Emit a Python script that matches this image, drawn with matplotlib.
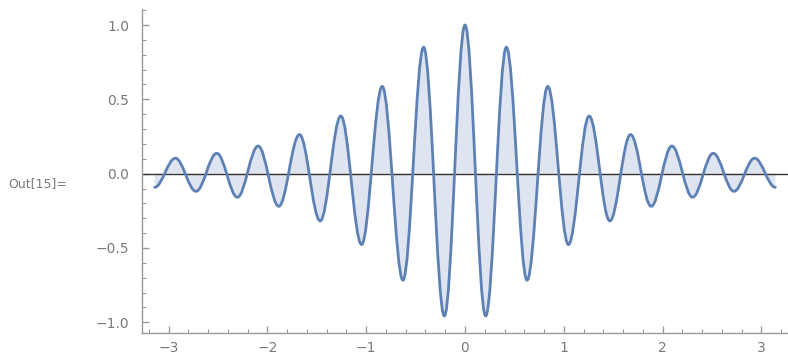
import numpy as np
import matplotlib
matplotlib.use("Agg")
import matplotlib.pyplot as plt
from matplotlib.path import Path
from matplotlib.patches import PathPatch
from matplotlib.ticker import MultipleLocator

# peaks and troughs of the wave (left to right)
x_ext = [-3.142, -2.932, -2.723, -2.513, -2.304, -2.094, -1.885, -1.676,
         -1.466, -1.257, -1.047, -0.838, -0.628, -0.419, -0.209, 0.0,
         0.209, 0.419, 0.628, 0.838, 1.047, 1.257, 1.466, 1.676,
         1.885, 2.094, 2.304, 2.513, 2.723, 2.932, 3.142]
y_ext = [-0.092, 0.104, -0.119, 0.137, -0.159, 0.186, -0.220, 0.263,
         -0.318, 0.388, -0.477, 0.587, -0.717, 0.851, -0.958, 1.0,
         -0.958, 0.851, -0.717, 0.587, -0.477, 0.388, -0.318, 0.263,
         -0.220, 0.186, -0.159, 0.137, -0.119, 0.104, -0.092]

line_color = "#5E81B5"
axis_color = "#9a9a9a"
label_color = "#7a7a7a"

# smooth curve through the extrema: cubic bezier per half wave
c = 1 - 2 / np.pi
verts = [(x_ext[0], y_ext[0])]
codes = [Path.MOVETO]
for i in range(len(x_ext) - 1):
    x0, y0 = x_ext[i], y_ext[i]
    x1, y1 = x_ext[i + 1], y_ext[i + 1]
    dx = x1 - x0
    verts += [(x0 + c * dx, y0), (x1 - c * dx, y1), (x1, y1)]
    codes += [Path.CURVE4] * 3

curve = Path(verts, codes)
fill = Path(verts + [(x_ext[-1], 0), (x_ext[0], 0), (x_ext[0], y_ext[0])],
            codes + [Path.LINETO, Path.LINETO, Path.CLOSEPOLY])

fig = plt.figure(figsize=(7.88, 3.58), dpi=100)
ax = fig.add_axes([0.1802, 0.0707, 0.8198, 0.9043])

ax.add_patch(PathPatch(fill, facecolor=line_color, alpha=0.2, edgecolor="none", zorder=1))
ax.axhline(0, color="#333333", lw=1.0, zorder=2)
ax.add_patch(PathPatch(curve, facecolor="none", edgecolor=line_color, lw=2.0,
                       capstyle="round", joinstyle="round", zorder=3))

ax.set_xlim(-3.27, 3.27)
ax.set_ylim(-1.07, 1.108)

ax.xaxis.set_major_locator(MultipleLocator(1))
ax.xaxis.set_minor_locator(MultipleLocator(0.2))
ax.yaxis.set_major_locator(MultipleLocator(0.5))
ax.yaxis.set_minor_locator(MultipleLocator(0.1))
ax.yaxis.set_major_formatter(plt.FuncFormatter(lambda v, p: f"{v:.1f}".replace("-", "\u2212")))
ax.xaxis.set_major_formatter(plt.FuncFormatter(lambda v, p: f"{v:.0f}".replace("-", "\u2212")))

for side in ["top", "right"]:
    ax.spines[side].set_visible(False)
for side in ["left", "bottom"]:
    ax.spines[side].set_color(axis_color)
    ax.spines[side].set_linewidth(1.0)

ax.tick_params(which="both", direction="in", color=axis_color, labelcolor=label_color,
               labelsize=10)
ax.tick_params(which="major", length=5, width=1.0)
ax.tick_params(which="minor", length=3, width=0.8)
ax.tick_params(axis="y", pad=9)
ax.tick_params(axis="x", pad=6)

fig.text(8 / 788, 1 - 184 / 358, "Out[15]=", fontsize=9, color=label_color,
         ha="left", va="center")

fig.savefig("out.png", dpi=100)
